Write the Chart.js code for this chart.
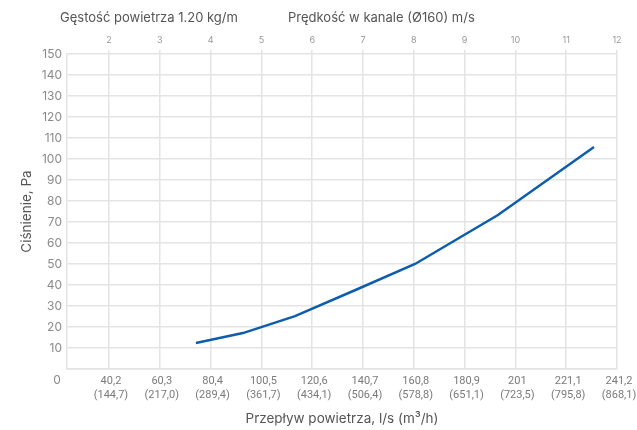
<!DOCTYPE html>
<html>
<head>
<meta charset="utf-8">
<script src="https://cdn.jsdelivr.net/npm/chart.js@4"></script>
<style>
  html, body { margin: 0; padding: 0; background: #fff; }
  #wrap { width: 637px; height: 430px; }
</style>
</head>
<body>
<div id="wrap"><canvas id="pressureChart" width="637" height="430"></canvas></div>
<script>
// air flow l/s and pressure Pa
let flow = [74.6, 93.2, 113.8, 137.5, 161.3, 194.1, 232.1]
let pressure = [12.4, 17.1, 25.2, 37.5, 50, 73.3, 105.7]

let flowTicks = [40.2, 60.3, 80.4, 100.5, 120.6, 140.7, 160.8, 180.9, 201, 221.1, 241.2]
let flowLabels = ["40,2", "60,3", "80,4", "100,5", "120,6", "140,7", "160,8", "180,9", "201", "221,1", "241,2"]
let hourLabels = ["(144,7)", "(217,0)", "(289,4)", "(361,7)", "(434,1)", "(506,4)", "(578,8)", "(651,1)", "(723,5)", "(795,8)", "(868,1)"]
let speedLabels = ["2", "3", "4", "5", "6", "7", "8", "9", "10", "11", "12"]

let fontFamily = "Inter, 'Liberation Sans', sans-serif"
let gridColor = "#e4e4e4"

let headerPlugin = {
    id: "headers",
    afterDraw(chart) {
        let c = chart.ctx
        c.save()
        c.fillStyle = "#555"
        c.font = "13px " + fontFamily
        c.textBaseline = "middle"
        c.textAlign = "left"
        c.fillText("Gęstość powietrza 1.20 kg/m", 60, 18)
        c.fillText("Prędkość w kanale (Ø160) m/s", 288, 18)
        c.fillStyle = "#8a8a8a"
        c.font = "12px " + fontFamily
        c.textAlign = "center"
        c.fillText("0", 57, 380)
        c.restore()
    },
}

// keep the plot edge where the reference has it, whatever the label widths
let noSidePadding = (scale) => {
    scale.paddingLeft = 0
    scale.paddingRight = 0
}

let ctx = document.getElementById("pressureChart").getContext("2d")
new Chart(ctx, {
    type: "line",
    data: {
        datasets: [
            {
                label: "Ciśnienie",
                data: flow.map((f, i) => ({ x: f, y: pressure[i] })),
                borderColor: "#0d5dac",
                borderWidth: 2.5,
                pointRadius: 0,
                tension: 0,
                fill: false,
            },
        ],
    },
    plugins: [headerPlugin],
    options: {
        responsive: false,
        animation: false,
        layout: { padding: { top: 0, right: 20, bottom: 0, left: 0 } },
        plugins: {
            legend: { display: false },
            tooltip: { enabled: false },
        },
        scales: {
            x: {
                type: "linear",
                position: "bottom",
                min: 23.6,
                max: 241.2,
                afterBuildTicks: (scale) => { scale.ticks = flowTicks.map((v) => ({ value: v })) },
                afterFit: (scale) => {
                    scale.height = 61
                    noSidePadding(scale)
                },
                grid: { color: gridColor, lineWidth: 1.5, drawTicks: false },
                border: { color: gridColor, width: 1.5 },
                ticks: {
                    autoSkip: false,
                    maxRotation: 0,
                    padding: 5,
                    labelOffset: 2,
                    color: "#7a7a7a",
                    font: { family: "Roboto, sans-serif", size: 11, lineHeight: 1.3 },
                    callback: (v, i) => [flowLabels[i], hourLabels[i]],
                },
                title: {
                    display: true,
                    text: "Przepływ powietrza, l/s (m³/h)",
                    color: "#555",
                    font: { family: fontFamily, size: 13.5 },
                    padding: { top: 0, bottom: 3 },
                },
            },
            x2: {
                type: "linear",
                position: "top",
                min: 23.6,
                max: 241.2,
                afterBuildTicks: (scale) => { scale.ticks = flowTicks.map((v) => ({ value: v })) },
                afterFit: (scale) => {
                    scale.height = 54
                    noSidePadding(scale)
                },
                grid: { color: gridColor, lineWidth: 1.5, drawOnChartArea: false, tickLength: 4 },
                border: { display: false },
                ticks: {
                    autoSkip: false,
                    maxRotation: 0,
                    padding: 4,
                    color: "#999",
                    font: { family: fontFamily, size: 9 },
                    callback: (v, i) => speedLabels[i],
                },
            },
            y: {
                min: 0,
                max: 150,
                afterFit: (scale) => { scale.width = 67 },
                grid: { color: gridColor, lineWidth: 1.5, drawTicks: false },
                border: { color: gridColor, width: 1.5 },
                ticks: {
                    stepSize: 10,
                    padding: 5,
                    color: "#8a8a8a",
                    font: { family: fontFamily, size: 12 },
                    callback: (v) => (v === 0 ? "" : v),
                },
                title: {
                    display: true,
                    text: "Ciśnienie, Pa",
                    color: "#555",
                    font: { family: fontFamily, size: 13.5 },
                    padding: { top: 19, bottom: 0 },
                },
            },
        },
    },
});
</script>
</body>
</html>
